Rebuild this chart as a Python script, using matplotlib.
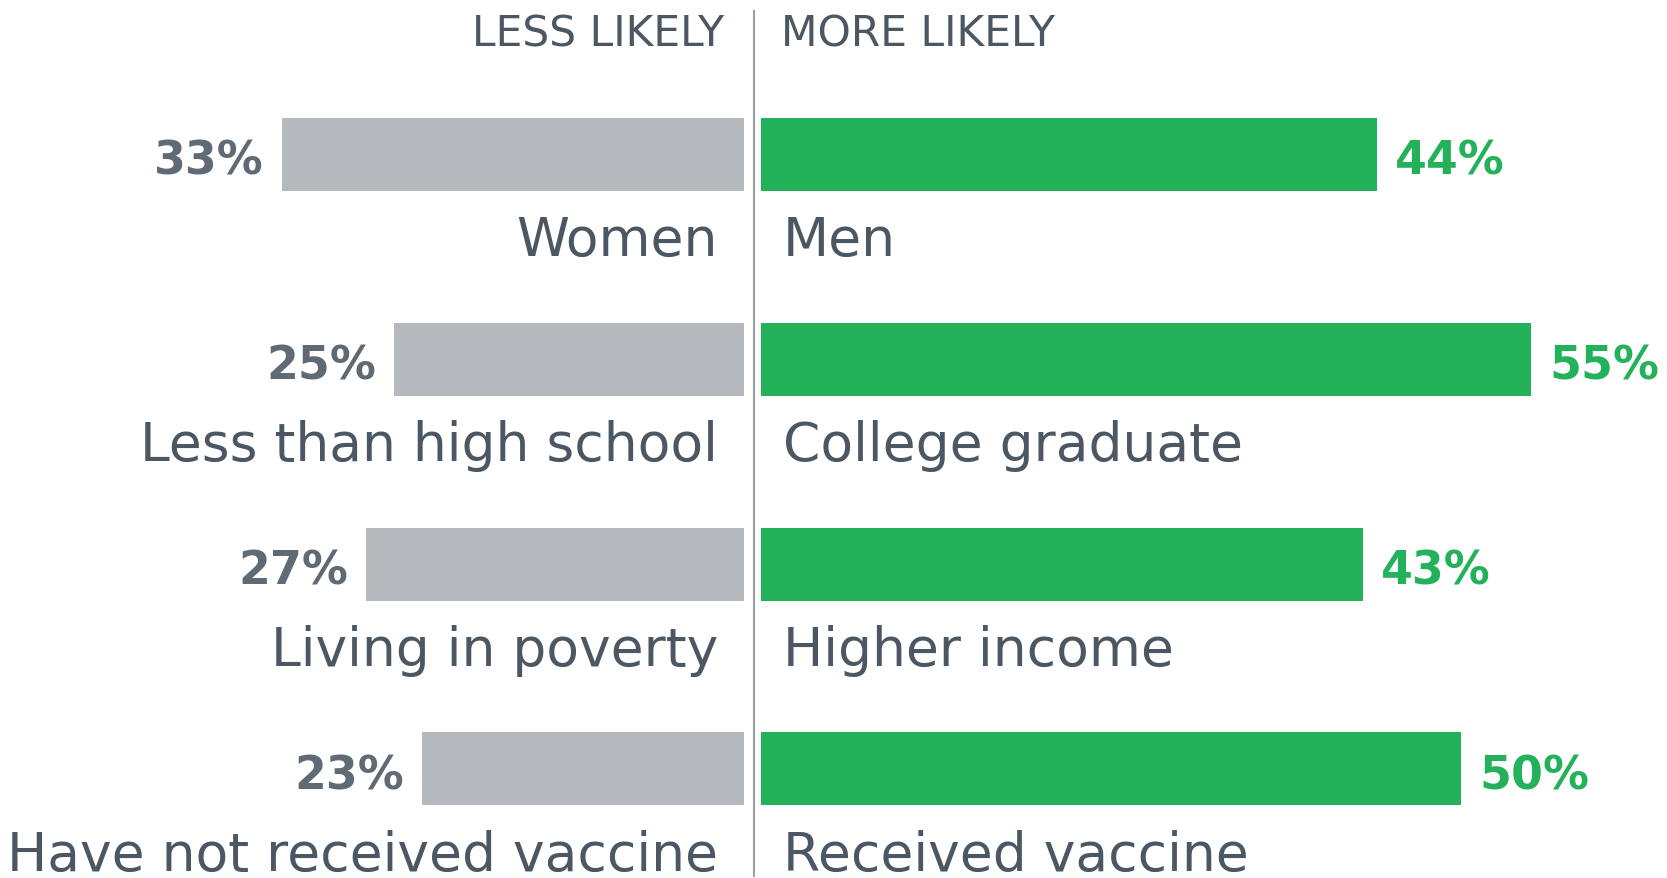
import matplotlib
matplotlib.use("Agg")
import matplotlib.pyplot as plt

# data
left_labels = ["Women", "Less than high school", "Living in poverty", "Have not received vaccine"]
right_labels = ["Men", "College graduate", "Higher income", "Received vaccine"]
less_likely = [33, 25, 27, 23]
more_likely = [44, 55, 43, 50]

GRAY_BAR = "#b5b9bd"
GREEN = "#23b25a"
TEXT = "#4b5762"
PCT_GRAY = "#5f6a74"
LINE = "#9a9fa4"

plt.rcParams["font.family"] = ["DejaVu Sans"]

fig = plt.figure(figsize=(16.67, 8.79), dpi=100)
ax = fig.add_axes([0, 0, 1, 1])

# 14 px per percentage point, centre line at x=0
px = 14.0
ax.set_xlim(-754 / px, (1667 - 754) / px)
ax.set_ylim((879 - 155) / 205, -155 / 205)
ax.axis("off")

gap_l = 10 / px
gap_r = 7 / px
ys = list(range(len(left_labels)))
h = 73 / 205

ax.barh(ys, [-v for v in less_likely], left=-gap_l, height=h, color=GRAY_BAR)
ax.barh(ys, more_likely, left=gap_r, height=h, color=GREEN)

ax.plot([0, 0], [-0.70, 3.52], color=LINE, lw=1.5, clip_on=False)

for y, v, lab in zip(ys, less_likely, left_labels):
    ax.text(-gap_l - v - 18 / px, y + 0.035, f"{v}%", ha="right", va="center",
            fontsize=33, fontweight="bold", color=PCT_GRAY)
    ax.text(-36 / px, y + 0.42, lab, ha="right", va="center", fontsize=38.5, color=TEXT)

for y, v, lab in zip(ys, more_likely, right_labels):
    ax.text(gap_r + v + 18 / px, y + 0.035, f"{v}%", ha="left", va="center",
            fontsize=33, fontweight="bold", color=GREEN)
    ax.text(29 / px, y + 0.42, lab, ha="left", va="center", fontsize=38.5, color=TEXT)

ax.text(-30 / px, -0.59, "LESS LIKELY", ha="right", va="center", fontsize=30.5, color=TEXT)
ax.text(27 / px, -0.59, "MORE LIKELY", ha="left", va="center", fontsize=30.5, color=TEXT)

fig.savefig("out.png", dpi=100)
